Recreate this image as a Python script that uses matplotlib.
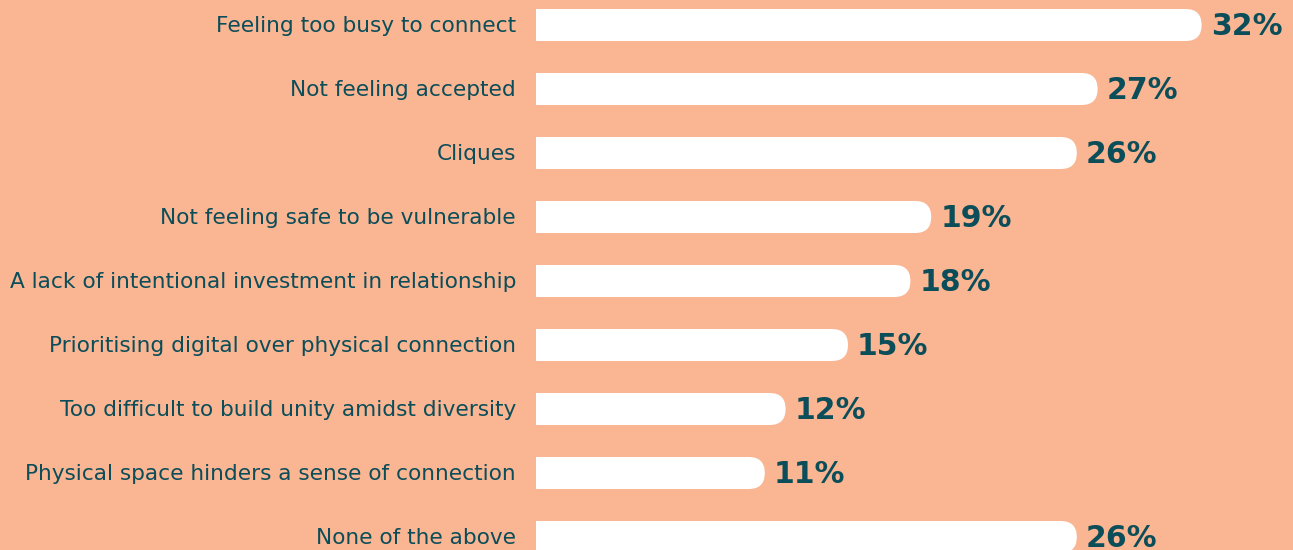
import matplotlib
matplotlib.use("Agg")
import matplotlib.pyplot as plt
from matplotlib.patches import FancyBboxPatch, Rectangle

categories = [
    "Feeling too busy to connect",
    "Not feeling accepted",
    "Cliques",
    "Not feeling safe to be vulnerable",
    "A lack of intentional investment in relationship",
    "Prioritising digital over physical connection",
    "Too difficult to build unity amidst diversity",
    "Physical space hinders a sense of connection",
    "None of the above",
]
values = [32, 27, 26, 19, 18, 15, 12, 11, 26]

BG = "#FAB592"
INK = "#0B4D59"

W, H, DPI = 1293, 550, 100
x0_px = 536          # where the bars start
px_per_pct = 20.8
row_px = 64
first_px = 25
bar_px = 32

fig = plt.figure(figsize=(W / DPI, H / DPI), dpi=DPI, facecolor=BG)
ax = fig.add_axes([x0_px / W, 0, 1 - x0_px / W, 1])
ax.set_facecolor(BG)
ax.set_xlim(0, (W - x0_px) / px_per_pct)
ax.set_ylim((H - first_px) / row_px, -first_px / row_px)
ax.axis("off")

bar_h = bar_px / row_px
r = (bar_px / 2) / px_per_pct          # cap radius in x units
aspect = (bar_px / 2 / row_px) / r     # y units per x unit for the round cap

for i, (cat, v) in enumerate(zip(categories, values)):
    y = i
    cap = FancyBboxPatch((0, y - bar_h / 2), v, bar_h,
                         boxstyle=f"round,pad=0,rounding_size={r}",
                         mutation_aspect=aspect,
                         facecolor="white", edgecolor="none", clip_on=False)
    ax.add_patch(cap)
    # square off the left end
    ax.add_patch(Rectangle((0, y - bar_h / 2), v / 2, bar_h,
                           facecolor="white", edgecolor="none", clip_on=False))
    ax.text(v + 9 / px_per_pct, y + 0.03, f"{v}%", ha="left", va="center",
            fontsize=21.5, fontweight="bold", family="DejaVu Sans", color=INK,
            clip_on=False)
    ax.text(-20 / px_per_pct, y + 0.02, cat, ha="right", va="center",
            fontsize=15.6, family="DejaVu Sans", color=INK, clip_on=False)

fig.savefig("out.png", dpi=DPI, facecolor=BG)
